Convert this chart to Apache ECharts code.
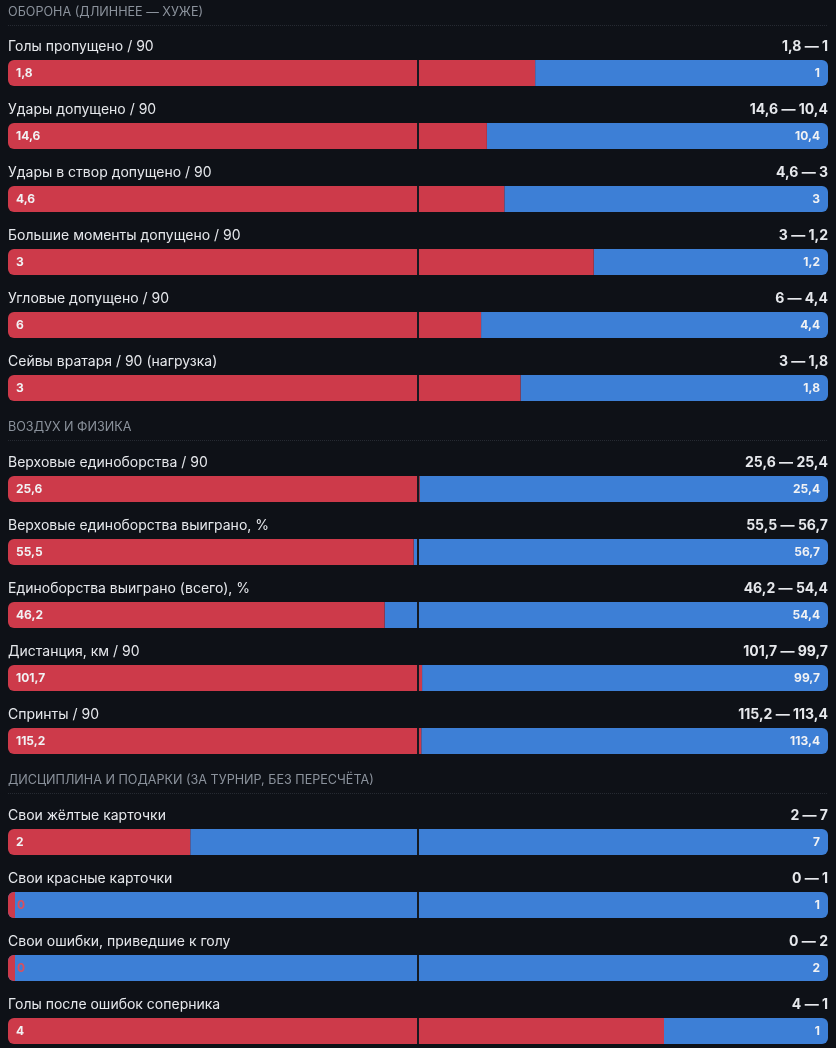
<!DOCTYPE html>
<html>
<head>
<meta charset="utf-8">
<script src="https://cdn.jsdelivr.net/npm/echarts@6/dist/echarts.min.js"></script>
<style>
  html, body { margin: 0; padding: 0; background: #0e1117; }
  #chart { width: 836px; height: 1048px; }
</style>
</head>
<body>
<div id="chart"></div>
<script>
'use strict';
// section headers
const sections = [
  'ОБОРОНА (ДЛИННЕЕ — ХУЖЕ)',
  'ВОЗДУХ И ФИЗИКА',
  'ДИСЦИПЛИНА И ПОДАРКИ (ЗА ТУРНИР, БЕЗ ПЕРЕСЧЁТА)'
];
// which section each row belongs to
const rowSection = [0, 0, 0, 0, 0, 0, 1, 1, 1, 1, 1, 2, 2, 2, 2];
const labels = [
  'Голы пропущено / 90',
  'Удары допущено / 90',
  'Удары в створ допущено / 90',
  'Большие моменты допущено / 90',
  'Угловые допущено / 90',
  'Сейвы вратаря / 90 (нагрузка)',
  'Верховые единоборства / 90',
  'Верховые единоборства выиграно, %',
  'Единоборства выиграно (всего), %',
  'Дистанция, км / 90',
  'Спринты / 90',
  'Свои жёлтые карточки',
  'Свои красные карточки',
  'Свои ошибки, приведшие к голу',
  'Голы после ошибок соперника'
];
const leftValues = [1.8, 14.6, 4.6, 3, 6, 3, 25.6, 55.5, 46.2, 101.7, 115.2, 2, 0, 0, 4];
const rightValues = [1, 10.4, 3, 1.2, 4.4, 1.8, 25.4, 56.7, 54.4, 99.7, 113.4, 7, 1, 2, 1];

const RED = '#cd3a4a';
const BLUE = '#3d7fd6';
const BG = '#0e1117';
const FONT = 'Inter, "Noto Sans", sans-serif';
const fmt = v => String(v).replace('.', ',');

const chart = echarts.init(document.getElementById('chart'));

const grids = [], xAxes = [], yAxes = [], series = [], graphics = [];
const BAR_H = 26, PITCH = 63, SECTION_GAP = 101, LEFT = 8, WIDTH = 820;

let barTop = 60;
let headerY = 12;
rowSection.forEach((sec, i) => {
  if (i > 0 && sec !== rowSection[i - 1]) {
    barTop += SECTION_GAP;
    headerY = barTop - 49;
  } else if (i > 0) {
    barTop += PITCH;
  }
  if (i === 0 || sec !== rowSection[i - 1]) {
    graphics.push({
      type: 'text', left: LEFT, top: headerY - 6,
      style: { text: sections[sec], fill: '#8b929c', font: '12.6px ' + FONT }
    });
    graphics.push({
      type: 'line', shape: { x1: LEFT, y1: headerY + 13.5, x2: LEFT + WIDTH, y2: headerY + 13.5 },
      style: { stroke: '#262a32', lineWidth: 1, lineDash: [1, 1] }
    });
  }
  const a = leftValues[i], b = rightValues[i];
  grids.push({ left: LEFT, width: WIDTH, top: barTop, height: BAR_H });
  xAxes.push({ gridIndex: i, type: 'value', min: 0, max: a + b, show: false });
  yAxes.push({ gridIndex: i, type: 'category', data: [labels[i]], show: false });

  graphics.push({
    type: 'text', left: LEFT, top: barTop - 20,
    style: { text: labels[i], fill: '#e6e8ec', font: '14px ' + FONT }
  });
  graphics.push({
    type: 'text', right: 836 - LEFT - WIDTH, top: barTop - 20,
    style: { text: fmt(a) + ' — ' + fmt(b), fill: '#e6e8ec', font: 'bold 14px ' + FONT, textAlign: 'right' }
  });

  const zeroLeft = a === 0;
  series.push({
    type: 'bar', xAxisIndex: i, yAxisIndex: i, stack: 's' + i, z: 2,
    barWidth: BAR_H, barMinHeight: 7,
    data: [a],
    itemStyle: { color: RED, borderRadius: [6, 0, 0, 6] },
    label: {
      show: true, position: 'insideLeft', distance: zeroLeft ? 9 : 8,
      formatter: p => fmt(p.value),
      color: zeroLeft ? '#d9505e' : '#f1f2f4',
      fontFamily: FONT, fontWeight: 'bold', fontSize: 12
    },
    markLine: {
      silent: true, symbol: ['none', 'none'],
      label: { show: false },
      lineStyle: { color: '#161a21', width: 2, type: 'solid' },
      data: [{ xAxis: (a + b) / 2 }]
    }
  });
  series.push({
    type: 'bar', xAxisIndex: i, yAxisIndex: i, stack: 's' + i, z: 1,
    barWidth: BAR_H,
    data: [{ value: b, itemStyle: { borderRadius: zeroLeft ? [6, 6, 6, 6] : [0, 6, 6, 0] } }],
    itemStyle: { color: BLUE },
    label: {
      show: true, position: 'insideRight', distance: 8,
      formatter: p => fmt(p.value),
      color: '#f1f2f4', fontFamily: FONT, fontWeight: 'bold', fontSize: 12
    }
  });
});

chart.setOption({
  backgroundColor: BG,
  animation: false,
  grid: grids,
  xAxis: xAxes,
  yAxis: yAxes,
  series: series,
  graphic: graphics
});
</script>
</body>
</html>
